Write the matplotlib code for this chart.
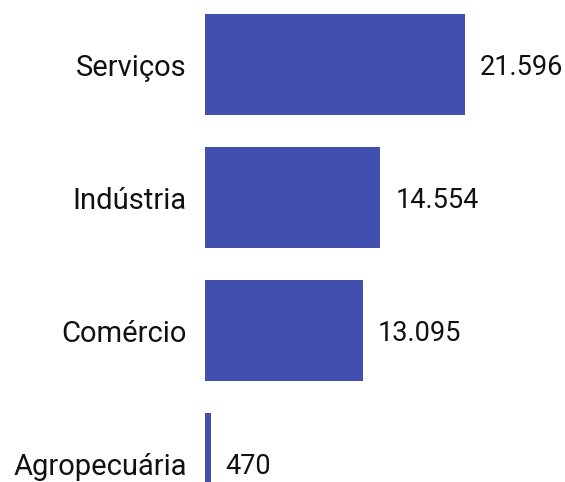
import matplotlib
matplotlib.use("Agg")
import matplotlib.pyplot as plt

setores = ["Serviços", "Indústria", "Comércio", "Agropecuária"]
valores = [21596, 14554, 13095, 470]
rotulos = ["21.596", "14.554", "13.095", "470"]

cor = "#4150AF"
plt.rcParams["font.family"] = ["Roboto", "DejaVu Sans"]

fig = plt.figure(figsize=(5.65, 4.82), dpi=100)
# the last bar runs past the bottom edge, as in the original
ax = fig.add_axes([205 / 565, -48 / 482, 361.2 / 565, 532 / 482])

pos = range(len(setores))
ax.barh(pos, valores, height=0.76, color=cor)
ax.set_xlim(0, 30000)
ax.set_ylim(3.5, -0.5)

for i, (v, r) in enumerate(zip(valores, rotulos)):
    ax.text(v + 1250, i + 0.02, r, va="center", ha="left", fontsize=19.5, color="#111111")
    ax.text(-1500, i + 0.03, setores[i], va="center", ha="right", fontsize=21, color="#111111")

ax.set_yticks([])
ax.set_xticks([])
for s in ax.spines.values():
    s.set_visible(False)

fig.savefig("out.png", dpi=100)
